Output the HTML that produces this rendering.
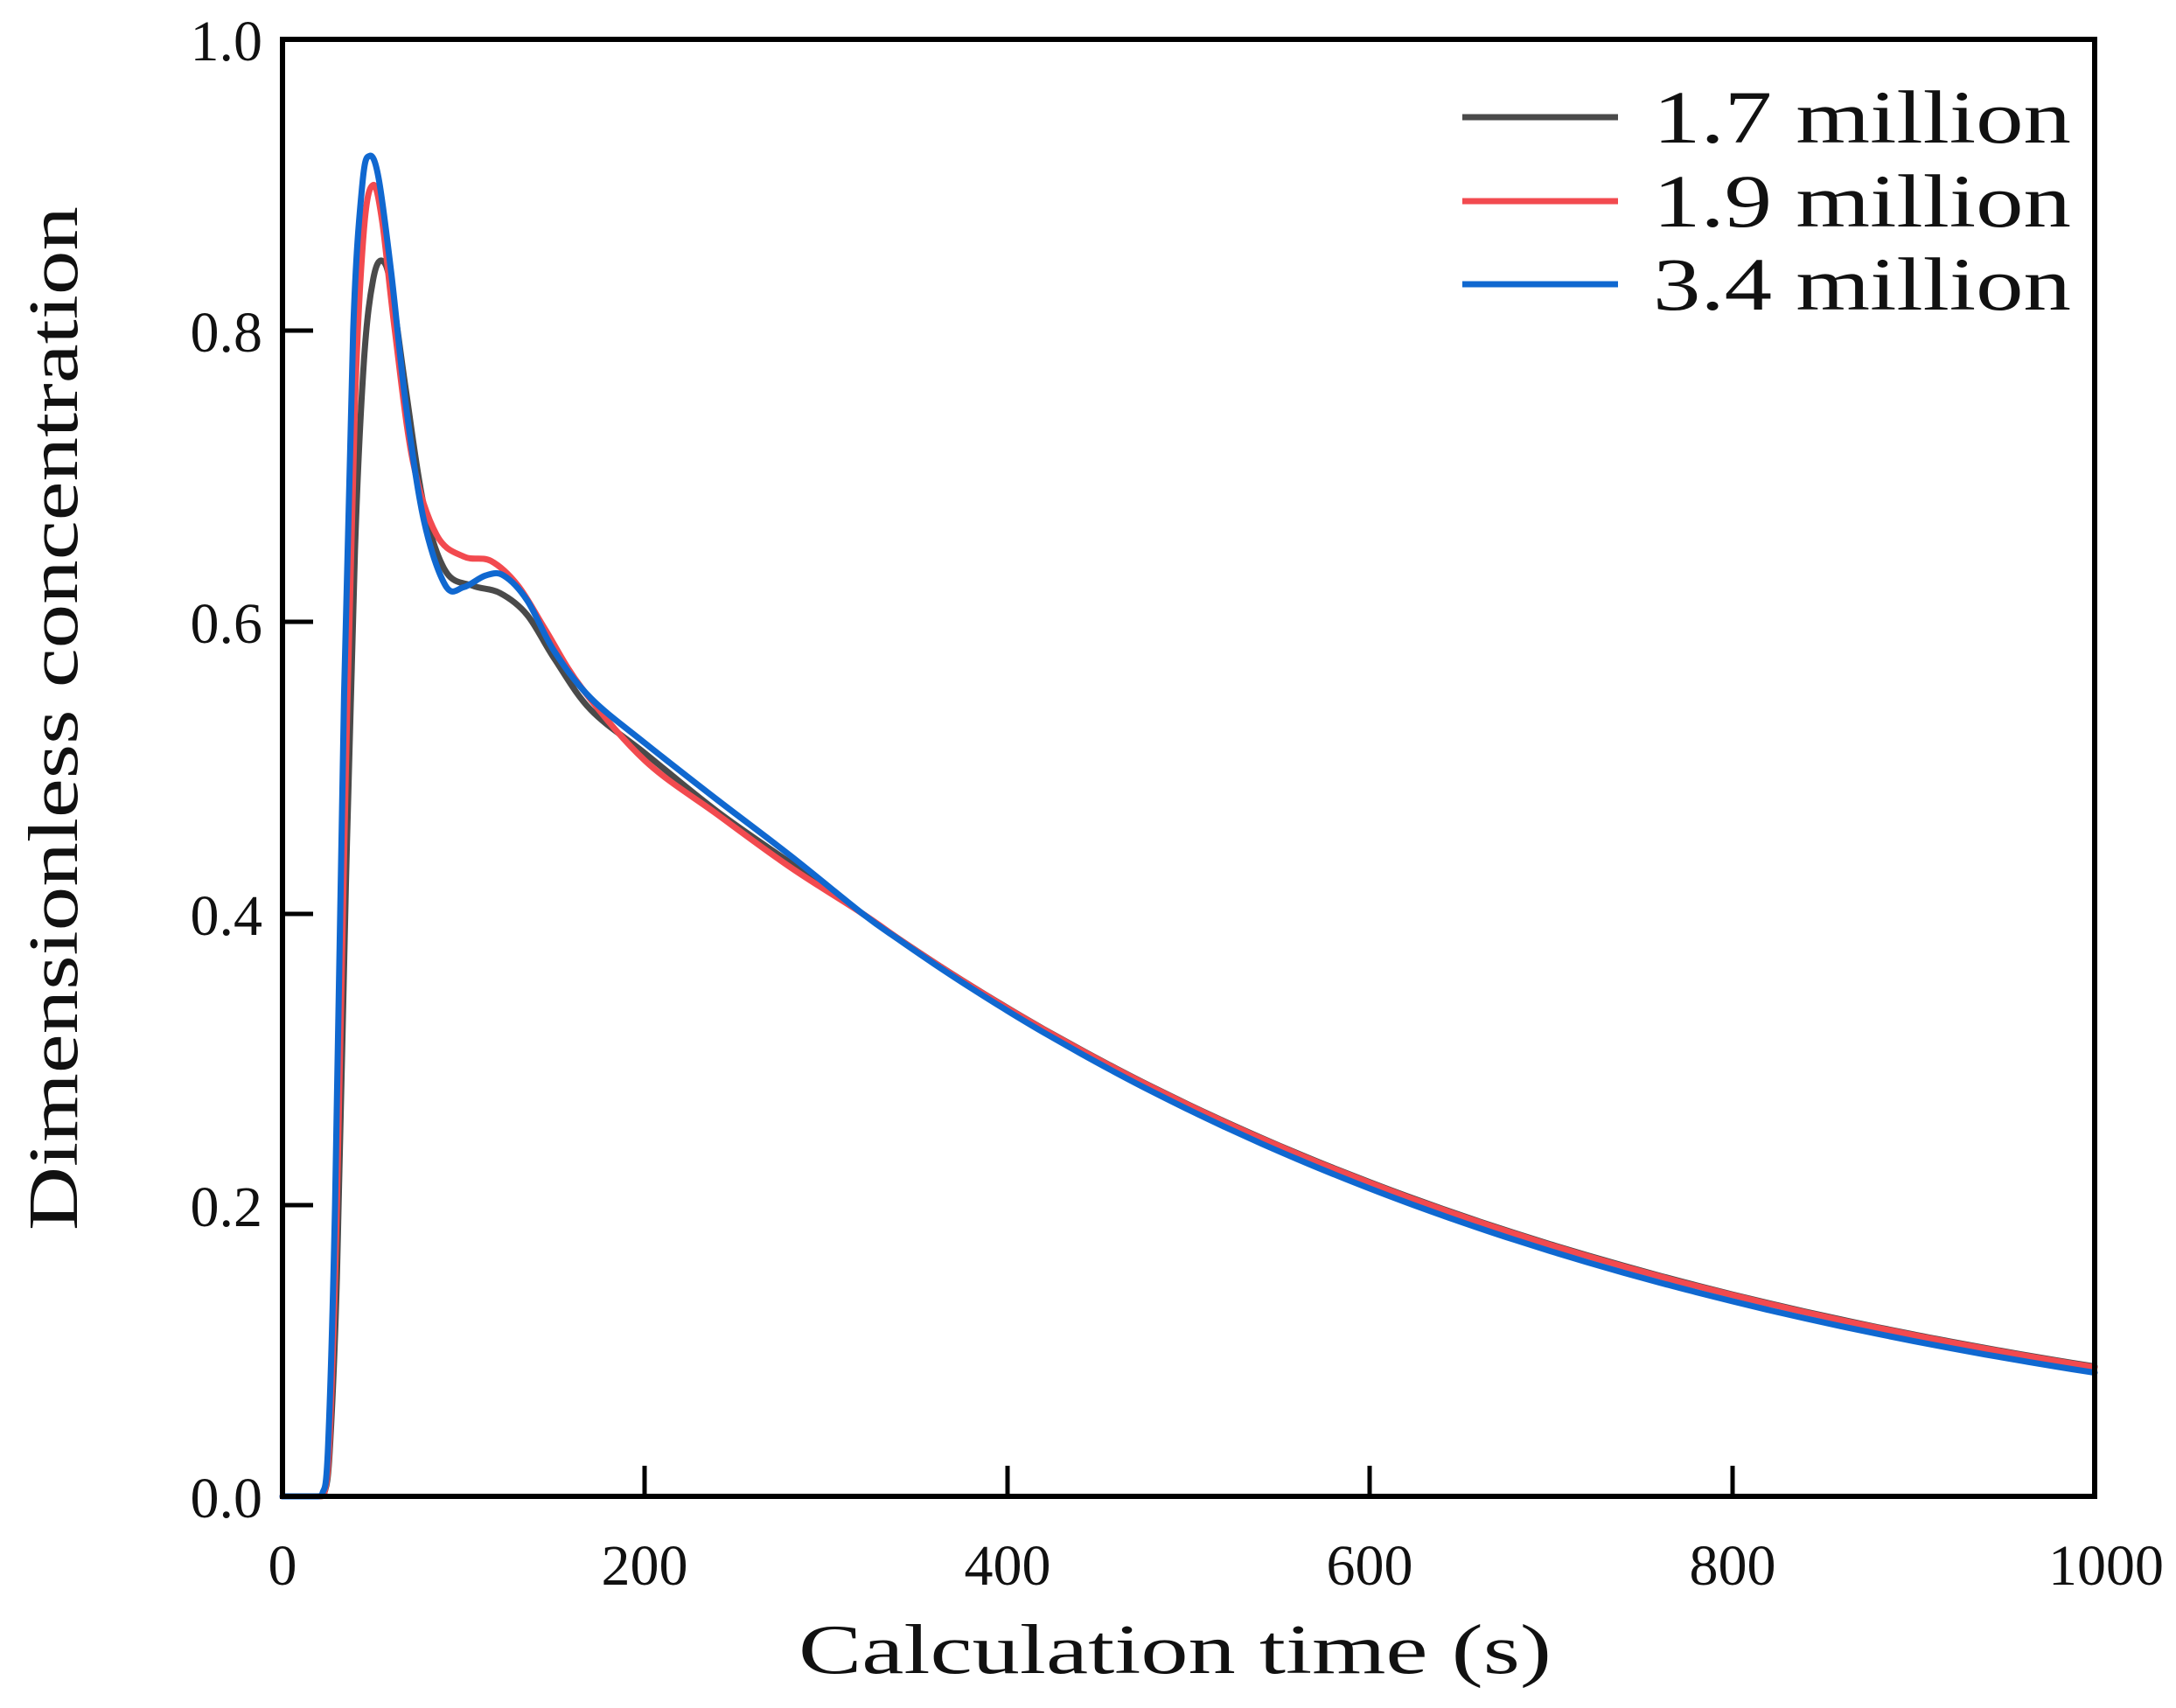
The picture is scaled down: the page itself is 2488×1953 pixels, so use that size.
<!DOCTYPE html>
<html><head><meta charset="utf-8"><style>
html,body{margin:0;padding:0;background:#fff;}
svg{display:block;}
text{font-family:"Liberation Serif","Noto Serif CJK SC",serif;fill:#111;}
</style></head><body>
<svg id="s" width="2488" height="1953" viewBox="0 0 2488 1953" xmlns="http://www.w3.org/2000/svg">
<g id="curves" fill="none" stroke-width="7" stroke-linejoin="round" stroke-linecap="round"></g>
<rect x="323" y="45" width="2072" height="1666" fill="none" stroke="#000" stroke-width="6"/>
<g stroke="#000" stroke-width="5">
<line x1="323" y1="1378" x2="358" y2="1378"/><line x1="323" y1="1045" x2="358" y2="1045"/>
<line x1="323" y1="711" x2="358" y2="711"/><line x1="323" y1="378" x2="358" y2="378"/>
<line x1="737" y1="1711" x2="737" y2="1676"/><line x1="1152" y1="1711" x2="1152" y2="1676"/>
<line x1="1566" y1="1711" x2="1566" y2="1676"/><line x1="1981" y1="1711" x2="1981" y2="1676"/>
</g>
<g font-size="66" text-anchor="end">
<text x="300" y="1735">0.0</text><text x="300" y="1402">0.2</text><text x="300" y="1069">0.4</text>
<text x="300" y="735">0.6</text><text x="300" y="402">0.8</text><text x="300" y="69">1.0</text>
</g>
<g font-size="66" text-anchor="middle">
<text x="323" y="1812">0</text><text x="737" y="1812">200</text><text x="1152" y="1812">400</text>
<text x="1566" y="1812">600</text><text x="1981" y="1812">800</text><text x="2408" y="1812">1000</text>
</g>
<text x="913" y="1913" font-size="80" textLength="861" lengthAdjust="spacingAndGlyphs">Calculation time (s)</text>
<text transform="translate(88,1407) rotate(-90)" font-size="80" textLength="1171" lengthAdjust="spacingAndGlyphs">Dimensionless concentration</text>
<g stroke-width="7">
<line x1="1672" y1="134" x2="1850" y2="134" stroke="#4a4a4a"/>
<line x1="1672" y1="230" x2="1850" y2="230" stroke="#f24a4f"/>
<line x1="1672" y1="325" x2="1850" y2="325" stroke="#1068d0"/>
</g>
<g font-size="86">
<text x="1890" y="163" textLength="478" lengthAdjust="spacingAndGlyphs">1.7 million</text>
<text x="1890" y="259" textLength="478" lengthAdjust="spacingAndGlyphs">1.9 million</text>
<text x="1890" y="354" textLength="478" lengthAdjust="spacingAndGlyphs">3.4 million</text>
</g>
</svg>
<script>
function X(t){return 323+2.072*t;}function Y(v){return 1711-1666*v;}
function tail(t,k){return 0.40*Math.exp(-0.00228*(t-320))*(1+k*(t-320)/680);}
function build(pts,col,k){
 for(var t=340;t<=1000;t+=20)pts.push([t,tail(t,k)]);
 var P=pts.map(function(p){return [X(p[0]),Y(p[1])];});
 var d="M"+P[0][0]+","+P[0][1];
 for(var i=0;i<P.length-1;i++){
  var p0=P[Math.max(i-1,0)],p1=P[i],p2=P[i+1],p3=P[Math.min(i+2,P.length-1)];
  var c1=[p1[0]+(p2[0]-p0[0])/6,Math.min(1711,p1[1]+(p2[1]-p0[1])/6)],c2=[p2[0]-(p3[0]-p1[0])/6,Math.min(1711,p2[1]-(p3[1]-p1[1])/6)];
  d+=" C"+c1[0].toFixed(1)+","+c1[1].toFixed(1)+" "+c2[0].toFixed(1)+","+c2[1].toFixed(1)+" "+p2[0].toFixed(1)+","+p2[1].toFixed(1);
 }
 var e=document.createElementNS("http://www.w3.org/2000/svg","path");
 e.setAttribute("d",d);e.setAttribute("stroke",col);document.getElementById("curves").appendChild(e);
}
build([[0,0],[20,0],[23,0.002],[26,0.03],[30,0.15],[35,0.42],[40,0.65],[45,0.78],[50,0.835],[55,0.848],[60,0.83],[68,0.76],[78,0.68],[90,0.635],[105,0.625],[120,0.62],[135,0.605],[150,0.575],[170,0.54],[200,0.51],[240,0.47],[280,0.435],[320,0.40]],"#4a4a4a",0.05);
build([[0,0],[20,0],[23,0.002],[26,0.04],[30,0.2],[35,0.5],[40,0.75],[45,0.87],[50,0.9],[55,0.875],[62,0.8],[72,0.71],[85,0.66],[100,0.645],[115,0.642],[130,0.625],[145,0.595],[165,0.555],[200,0.505],[240,0.468],[280,0.432],[320,0.40]],"#f24a4f",0.045);
build([[0,0],[19,0],[22,0.002],[25,0.03],[29,0.2],[34,0.55],[39,0.8],[44,0.9],[48,0.92],[53,0.905],[60,0.84],[68,0.75],[78,0.67],[90,0.625],[100,0.624],[112,0.632],[122,0.632],[135,0.615],[150,0.58],[170,0.548],[200,0.517],[240,0.478],[280,0.44],[320,0.40]],"#1068d0",0);
</script>
</body></html>
